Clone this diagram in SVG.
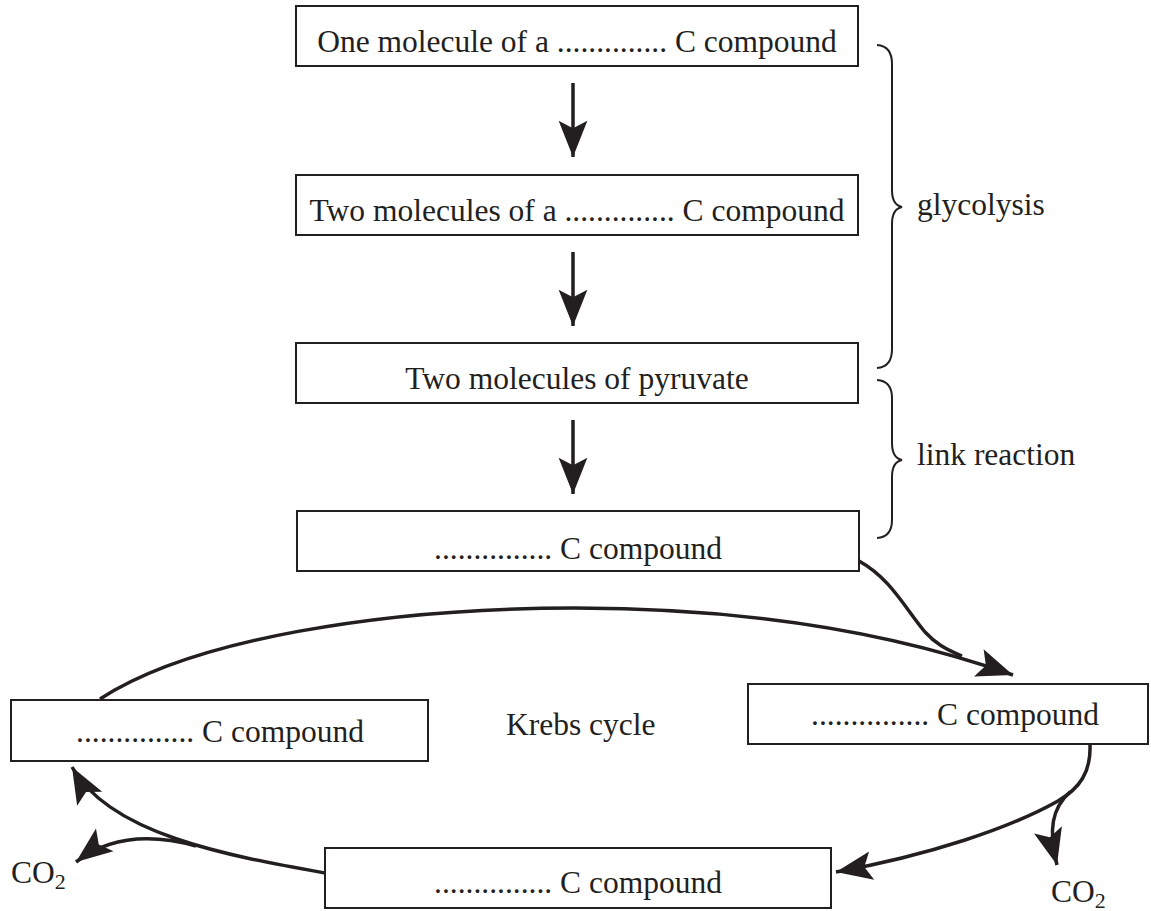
<svg xmlns="http://www.w3.org/2000/svg" width="1151" height="911" viewBox="0 0 1151 911">
<style>
.box{fill:#fff;stroke:#231f20;stroke-width:2}
.t{font-family:"Liberation Serif","Times New Roman",serif;font-size:31.5px;fill:#231f20}
.c{text-anchor:middle}
.line{fill:none;stroke:#231f20;stroke-width:3.5}
.brace{fill:none;stroke:#231f20;stroke-width:2}
</style>
<defs>
<marker id="ah" markerUnits="userSpaceOnUse" markerWidth="40" markerHeight="40" viewBox="-30 -15 32 30" refX="0" refY="0" orient="auto">
<path d="M0,0 L-29,-11.5 L-23,0 L-29,11.5 Z" fill="#231f20"/>
</marker>
</defs>
<rect width="1151" height="911" fill="#fff"/>
<g id="connectors">
<path class="line" d="M573,83 L573,157" marker-end="url(#ah)"/>
<path class="line" d="M573,252 L573,326" marker-end="url(#ah)"/>
<path class="line" d="M573,420 L573,494" marker-end="url(#ah)"/>
<path class="line" d="M100,699 C190,640 380,608 575,608 C760,608 900,635 1013,675" marker-end="url(#ah)"/>
<path class="line" d="M859,561 C890,578 905,608 925,632 C935,643 945,649 962,656"/>
<path class="line" d="M1090,745 C1091,772 1080,788 1058,801 C1010,828 930,855 836,872" marker-end="url(#ah)"/>
<path class="line" d="M1070,792 C1052,808 1048,830 1057,865" marker-end="url(#ah)"/>
<path class="line" d="M325,873 C230,856 110,835 72,767" marker-end="url(#ah)"/>
<path class="line" d="M196,846 C160,836 115,832 76,862" marker-end="url(#ah)"/>
</g>
<g id="brace-glycolysis">
<path class="brace" d="M877,45 Q892,46 892,64 L892,190 Q892,205 902,207 Q892,209 892,224 L892,349 Q892,367 877,368"/>
<text class="t" x="917" y="215">glycolysis</text>
</g>
<g id="brace-link">
<path class="brace" d="M877,380 Q892,381 892,398 L892,443 Q892,458 902,460 Q892,462 892,477 L892,520 Q892,537 877,538"/>
<text class="t" x="917" y="465">link reaction</text>
</g>
<g id="node1">
<rect class="box" x="296" y="6" width="562" height="60"/>
<text class="t c" x="577" y="52">One molecule of a .............. C compound</text>
</g>
<g id="node2">
<rect class="box" x="296" y="175" width="562" height="60"/>
<text class="t c" x="577" y="221">Two molecules of a .............. C compound</text>
</g>
<g id="node3">
<rect class="box" x="296" y="343" width="562" height="60"/>
<text class="t c" x="577" y="389">Two molecules of pyruvate</text>
</g>
<g id="node4">
<rect class="box" x="297" y="511" width="562" height="60"/>
<text class="t c" x="578" y="559">............... C compound</text>
</g>
<g id="node-right">
<rect class="box" x="748" y="684" width="400" height="60"/>
<text class="t c" x="955" y="725">............... C compound</text>
</g>
<g id="node-bottom">
<rect class="box" x="325" y="848" width="506" height="60"/>
<text class="t c" x="578" y="893">............... C compound</text>
</g>
<g id="node-left">
<rect class="box" x="11" y="700" width="417" height="61"/>
<text class="t c" x="220" y="742">............... C compound</text>
</g>
<g id="krebs-label">
<text class="t" x="506" y="735">Krebs cycle</text>
</g>
<g id="co2-left">
<text class="t" x="11" y="883">CO<tspan font-size="22" dy="6">2</tspan></text>
</g>
<g id="co2-right">
<text class="t" x="1051" y="902">CO<tspan font-size="22" dy="6">2</tspan></text>
</g>
</svg>
